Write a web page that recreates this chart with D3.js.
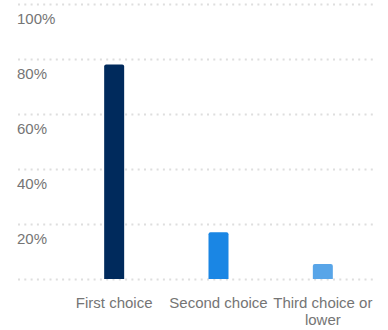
<!DOCTYPE html>
<html><head><meta charset="utf-8">
<script src="https://cdn.jsdelivr.net/npm/d3@7"></script>
<style>body{margin:0;background:#fff}svg{display:block}text{font-family:"Liberation Sans",Arial,sans-serif}</style>
</head><body>
<svg id="c" width="388" height="330"></svg>
<script>
const categories = ["First choice", "Second choice", "Third choice or lower"];
const values = [78, 17, 5.5];
const colors = ["#002a5c", "#1a86e4", "#58a5e8"];
const yTicks = [20, 40, 60, 80, 100];

const svg = d3.select("#c");
const y = d3.scaleLinear().domain([0, 100]).range([279, 4]);
const x = d3.scaleBand().domain(categories).range([62, 375]).paddingInner(0).paddingOuter(0);

// gridlines
svg.append("g").selectAll("line").data([0].concat(yTicks)).join("line")
  .attr("x1", 18).attr("x2", 376)
  .attr("y1", d => y(d) + 0.5).attr("y2", d => y(d) + 0.5)
  .attr("stroke", "#dedede").attr("stroke-width", 2).attr("stroke-dasharray", "2,4.3");

// y labels
svg.append("g").selectAll("text").data(yTicks).join("text")
  .attr("x", 17).attr("y", d => y(d) + 20)
  .attr("fill", "#757575").attr("font-size", 15)
  .text(d => d + "%");

// bars
const bw = 20;
function topRounded(x0, y0, w, h, r) {
  return `M${x0},${y0 + h}V${y0 + r}Q${x0},${y0} ${x0 + r},${y0}H${x0 + w - r}Q${x0 + w},${y0} ${x0 + w},${y0 + r}V${y0 + h}Z`;
}
svg.append("g").selectAll("path").data(categories).join("path")
  .attr("d", (d, i) => {
    const cx = x(d) + x.bandwidth() / 2;
    return topRounded(cx - bw / 2, y(values[i]), bw, y(0) - y(values[i]), 2);
  })
  .attr("fill", (d, i) => colors[i]);

// category labels
const lab = svg.append("g").selectAll("text").data(categories).join("text")
  .attr("text-anchor", "middle").attr("fill", "#757575").attr("font-size", 15)
  .attr("x", d => x(d) + x.bandwidth() / 2).attr("y", 308);
lab.each(function(d) {
  const t = d3.select(this);
  const cx = x(d) + x.bandwidth() / 2;
  if (d === "Third choice or lower") {
    t.append("tspan").attr("x", cx).attr("dy", 0).text("Third choice or");
    t.append("tspan").attr("x", cx).attr("dy", 17).text("lower");
  } else {
    t.text(d);
  }
});
</script>
</body></html>
